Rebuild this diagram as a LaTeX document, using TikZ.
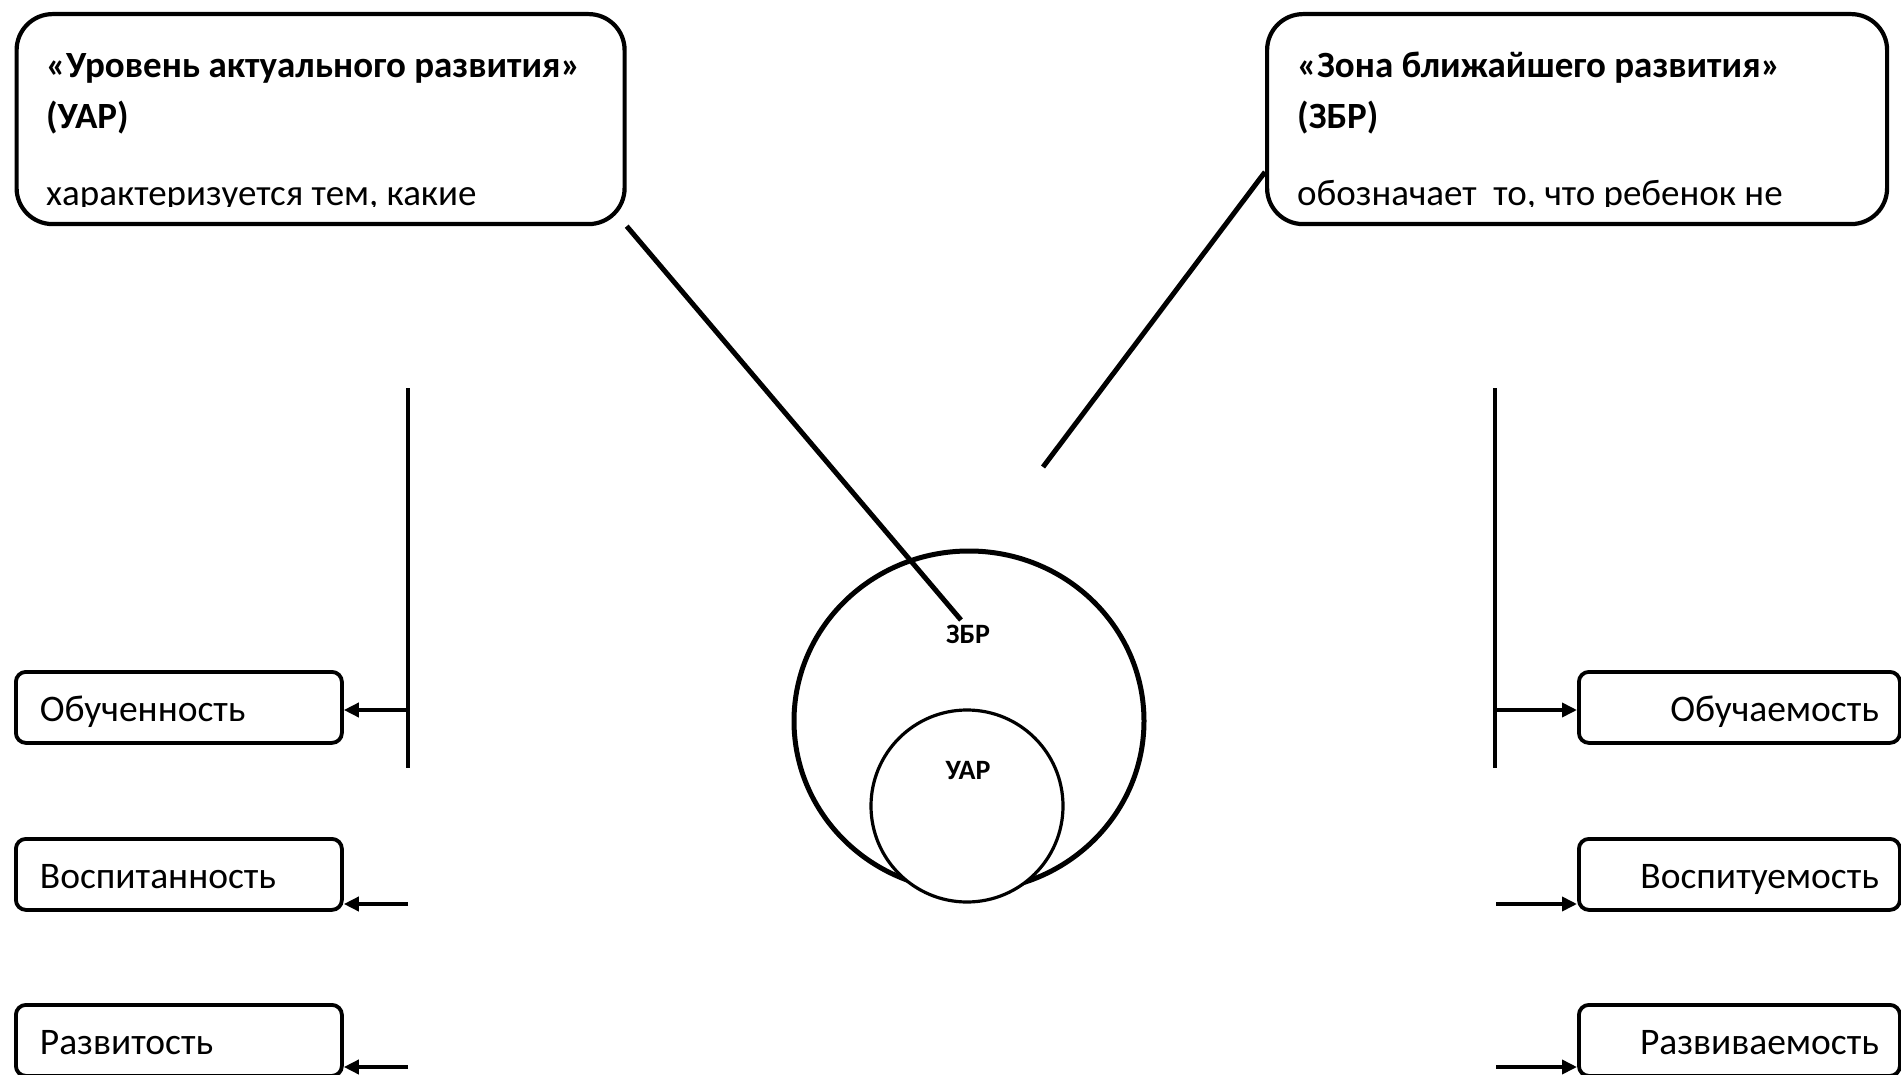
\documentclass[tikz,border=0pt]{standalone}
\usepackage{fontspec}
\setmainfont{Carlito}
\usetikzlibrary{arrows.meta,shapes.geometric}
\begin{document}
\begin{tikzpicture}[x=1pt,y=-1pt,
  bigbox/.style={draw, line width=4.2pt, rounded corners=36pt, minimum height=210pt, anchor=north west, inner sep=0pt},
  smallbox/.style={draw, line width=3.8pt, rounded corners=10pt, minimum height=71pt, anchor=north west, inner ysep=0pt, text height=29pt, text depth=0pt, font=\fontsize{37.5}{44}\selectfont},
  lbox/.style={smallbox, inner xsep=24pt, text width=278pt, align=left},
  rbox/.style={smallbox, inner xsep=21pt, text width=279pt, align=right},
  ttl/.style={inner sep=0pt, anchor=base west, font=\bfseries\fontsize{37}{44}\selectfont},
  bodytxt/.style={inner sep=0pt, anchor=base west, font=\fontsize{37}{44}\selectfont},
  lead/.style={line width=5pt},
  vline/.style={line width=3.6pt},
  arr/.style={line width=3.6pt, -{Triangle[length=15pt,width=14pt]}},
  clbl/.style={inner sep=0pt, font=\bfseries\fontsize{28}{32}\selectfont}
]
\useasboundingbox[fill=white] (0,0) rectangle (1901,1075);

% top boxes
\node[bigbox, minimum width=608pt] (uar) at (14.5,12) {};
\node[bigbox, minimum width=620pt] (zbr) at (1265,12) {};
\node[ttl] (uart1) at (46,78) {«Уровень актуального развития»};
\node[ttl] (uart2) at (46,129) {(УАР)};
\node[ttl] (zbrt1) at (1297,78) {«Зона ближайшего развития»};
\node[ttl] (zbrt2) at (1297,129) {(ЗБР)};
\begin{scope}
  \clip (20,150) rectangle (615,207);
  \node[bodytxt] (uart3) at (46,206) {характеризуется тем, какие};
\end{scope}
\begin{scope}
  \clip (1270,150) rectangle (1880,207);
  \node[bodytxt] (zbrt3) at (1297,206) {обозначает~ то, что ребенок не};
\end{scope}

% circles
\node[ellipse, draw, line width=5pt, minimum width=350pt, minimum height=340pt, inner sep=0pt] (bigc) at (969,721) {};
\node[circle, draw, fill=white, line width=3.2pt, minimum size=192pt, inner sep=0pt] (smallc) at (967,806) {};
\node[clbl] (zlbl) at (968,634) {ЗБР};
\node[clbl] (ulbl) at (968,771) {УАР};

% leader lines
\coordinate (uarend) at (961,620);
\coordinate (zbrend) at (1043,467);
\draw[lead] (uar.south east) -- (uarend);
\draw[lead] (zbr.west |- 0,172) -- (zbrend);

% small boxes left
\node[lbox] (obu) at (14,670) {Обученность};
\node[lbox] (vos) at (14,837) {Воспитанность};
\node[lbox] (raz) at (14,1003) {Развитость};
% small boxes right
\node[rbox] (obuc) at (1577,670) {Обучаемость};
\node[rbox] (vosc) at (1577,837) {Воспитуемость};
\node[rbox] (razc) at (1577,1003) {Развиваемость};

% vertical lines
\coordinate (lt) at (408,388);
\coordinate (lb) at (408,768);
\coordinate (rt) at (1495,388);
\coordinate (rb) at (1495,768);
\draw[vline] (lt) -- (lb);
\draw[vline] (rt) -- (rb);

% arrows left
\coordinate (la1) at (408,710);
\coordinate (la2) at (408,904);
\coordinate (la3) at (408,1067);
\draw[arr] (la1) -- (la1 -| obu.east);
\draw[arr] (la2) -- (la2 -| vos.east);
\draw[arr] (la3) -- (la3 -| raz.east);
% arrows right
\coordinate (ra1) at (1495,710);
\coordinate (ra2) at (1496,904);
\coordinate (ra3) at (1496,1067);
\draw[arr] (ra1) -- (ra1 -| obuc.west);
\draw[arr] (ra2) -- (ra2 -| vosc.west);
\draw[arr] (ra3) -- (ra3 -| razc.west);
\end{tikzpicture}
\end{document}
